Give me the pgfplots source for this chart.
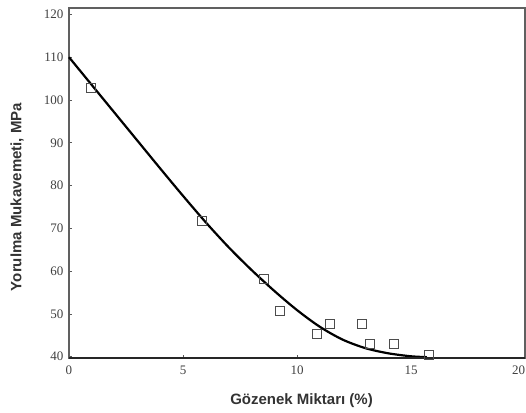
\documentclass[border=0pt]{standalone}
\usepackage{pgfplots}
\pgfplotsset{compat=1.18}
\usepackage{fontspec}
\setmainfont{Liberation Serif}
\newfontfamily\labelfont{Liberation Sans}

% Fatigue strength versus porosity: measured points
\pgfplotstableread{
x      y
0.96   102.7
5.85   71.8
8.57   58.1
9.27   50.7
10.86  45.4
11.46  47.7
12.84  47.7
13.20  43.1
14.25  43.0
15.78  40.5
}\measured

% Fitted trend curve
\pgfplotstableread{
x     y
0     110.0
1     103.5
2     97.0
3     90.5
4     84.0
5     77.6
6     71.4
7     65.6
8     60.3
9     55.4
10    50.9
11    47.0
12    44.0
13    42.0
14    40.8
15    40.1
15.7  39.9
}\trend

\begin{document}
\begin{tikzpicture}
\useasboundingbox (-69pt,-54pt) rectangle (457pt,358pt);
\begin{axis}[
  at={(0pt,0pt)}, anchor=south west,
  scale only axis,
  width=456pt, height=350pt,
  xmin=0, xmax=20,
  ymin=39.7, ymax=121.5,
  xtick={0,5,10,15,20},
  xticklabels={0,5,10,15,\makebox[0pt][r]{20}},
  ytick={40,50,...,120},
  xtick pos=bottom, ytick pos=left,
  tick align=inside,
  major tick length=3pt,
  tick style={draw=gray!70!black, line width=0.6pt},
  axis line style={draw=gray!75!black, line width=1.4pt},
  tick label style={font=\fontsize{13}{13}\selectfont, text=black!75},
  /pgf/number format/assume math mode=true,
  xticklabel style={yshift=-4pt},
  yticklabel style={xshift=-2pt},
  xlabel={Gözenek Miktarı (\%)},
  ylabel={Yorulma Mukavemeti, MPa},
  label style={font=\labelfont\bfseries\fontsize{15}{15}\selectfont, text=black!80},
  xlabel style={at={(axis description cs:0.51,0)}, anchor=center, yshift=-43pt},
  ylabel style={at={(axis description cs:0,0.46)}, anchor=center, yshift=52pt},
  clip=false,
]
\addplot[black, line width=2.2pt, smooth, tension=0.5] table[x=x, y=y] {\trend};
\addplot[only marks, mark=square, mark size=4.5pt,
         mark options={draw=black!70, line width=0.9pt, fill=none}]
  table[x=x, y=y] {\measured};
\draw[black!85, line width=2pt] (rel axis cs:0,0) -- (rel axis cs:1,0);
\end{axis}
\end{tikzpicture}
\end{document}
